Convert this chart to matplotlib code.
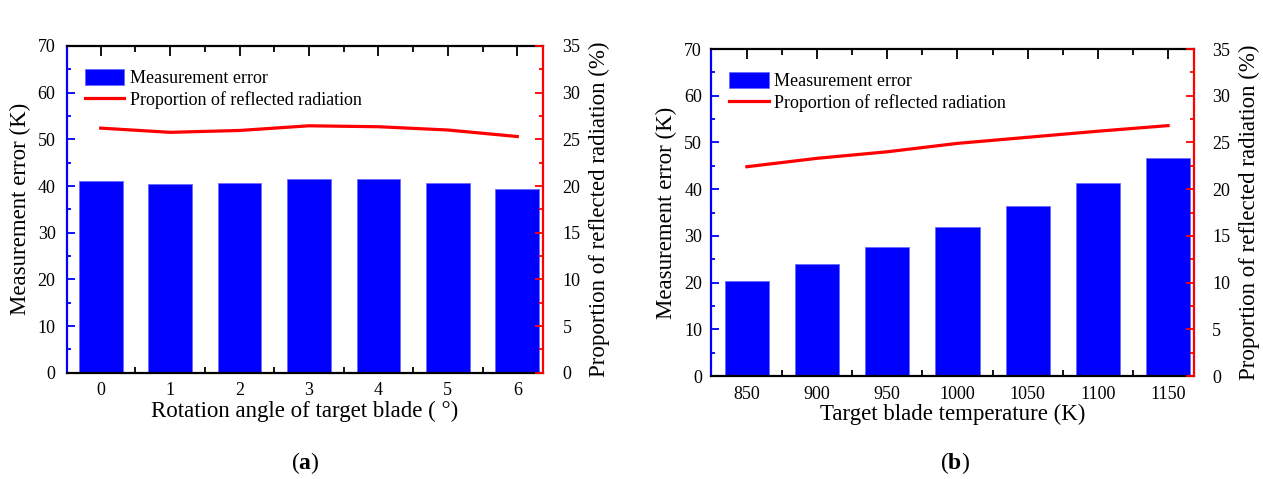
import matplotlib
matplotlib.use("Agg")
import matplotlib.pyplot as plt
import numpy as np
from matplotlib.ticker import MultipleLocator, FixedLocator

plt.rcParams['font.family'] = ['Liberation Serif', 'DejaVu Serif']
plt.rcParams['mathtext.fontset'] = 'custom'
plt.rcParams['mathtext.bf'] = 'Liberation Serif:bold'
plt.rcParams['mathtext.rm'] = 'Liberation Serif'

# ---- data ----
angles = ['0', '1', '2', '3', '4', '5', '6']
err_a = [41.1, 40.4, 40.6, 41.6, 41.4, 40.7, 39.4]
prop_a = [26.2, 25.75, 25.95, 26.45, 26.35, 26.0, 25.3]

temps = ['850', '900', '950', '1000', '1050', '1100', '1150']
err_b = [20.4, 23.9, 27.7, 31.9, 36.4, 41.3, 46.6]
prop_b = [22.4, 23.3, 24.0, 24.9, 25.55, 26.2, 26.8]

BLUE = '#0000ff'
RED = '#ff0000'

fig = plt.figure(figsize=(12.63, 4.79), dpi=100)

def panel(rect, cats, err, prop, xlabel, tag, tagx, xlim, lpad, rpad, ylab_l, ylab_r):
    ax = fig.add_axes(rect)
    x = np.arange(len(cats))
    bars = ax.bar(x, err, width=0.63, color=BLUE, edgecolor='#6a6aff', linewidth=0.6,
                  label='Measurement error', zorder=1)
    ax.set_axisbelow(True)
    ax.set_xlim(*xlim)
    ax.set_ylim(0, 70)
    ax.yaxis.set_major_locator(MultipleLocator(10))
    ax.yaxis.set_minor_locator(MultipleLocator(5))
    ax.set_xticks(x)
    ax.set_xticklabels(cats)
    ax.xaxis.set_minor_locator(FixedLocator(x[:-1] + 0.5))
    ax.tick_params(axis='x', which='major', direction='in', top=True, length=7, width=1.3,
                   labelsize=13, pad=7, color='black')
    ax.tick_params(axis='x', which='minor', direction='in', top=True, length=4, width=1.3,
                   color='black')
    ax.tick_params(axis='y', which='major', direction='in', length=6, width=1.3,
                   labelsize=13, pad=lpad, color=BLUE)
    ax.tick_params(axis='y', which='minor', direction='in', length=3, width=1.3, color=BLUE)
    for s in ['top', 'bottom']:
        ax.spines[s].set_linewidth(1.6)
        ax.spines[s].set_color('black')
    ax.spines['left'].set_color(BLUE)
    ax.spines['left'].set_linewidth(1.6)
    ax.spines['right'].set_visible(False)
    ax.set_xlabel(xlabel, fontsize=16.5, labelpad=1)
    ax.set_ylabel('Measurement error (K)', fontsize=16.5, labelpad=ylab_l)

    ax2 = ax.twinx()
    ln, = ax2.plot(x, prop, color=RED, linewidth=2.3, label='Proportion of reflected radiation')
    ax2.set_ylim(0, 35)
    ax2.yaxis.set_major_locator(MultipleLocator(5))
    ax2.yaxis.set_minor_locator(MultipleLocator(2.5))
    ax2.tick_params(axis='y', which='major', direction='in', length=6, width=1.3,
                    labelsize=13, pad=rpad, color=RED)
    ax2.tick_params(axis='y', which='minor', direction='in', length=3, width=1.3, color=RED)
    ax2.spines['right'].set_color(RED)
    ax2.spines['right'].set_linewidth(1.6)
    for s in ['left', 'top', 'bottom']:
        ax2.spines[s].set_visible(False)
    ax2.set_ylabel('Proportion of reflected radiation (%)', fontsize=16.5, labelpad=ylab_r)

    ax2.legend([bars, ln], ['Measurement error', 'Proportion of reflected radiation'],
               loc='upper left', bbox_to_anchor=(0.0, 0.985), frameon=False,
               fontsize=13, handlelength=2.2, handleheight=0.95, handletextpad=0.3,
               labelspacing=0.2, borderaxespad=0.6)
    fig.text(tagx, 0.033, '(' + r'$\mathbf{' + tag + '}$' + ')', ha='center', va='center',
             fontsize=17)
    return ax, ax2

panel([0.0528, 0.2219, 0.3771, 0.6821], angles, err_a, prop_a,
      'Rotation angle of target blade ( °)', 'a', 0.2415, (-0.49, 6.37), 8, 14, 5, 6)
panel([0.563, 0.215, 0.3824, 0.6827], temps, err_b, prop_b,
      'Target blade temperature (K)', 'b', 0.756, (-0.51, 6.37), 6.5, 13, 5, 6)

fig.savefig('out.png', dpi=100)
